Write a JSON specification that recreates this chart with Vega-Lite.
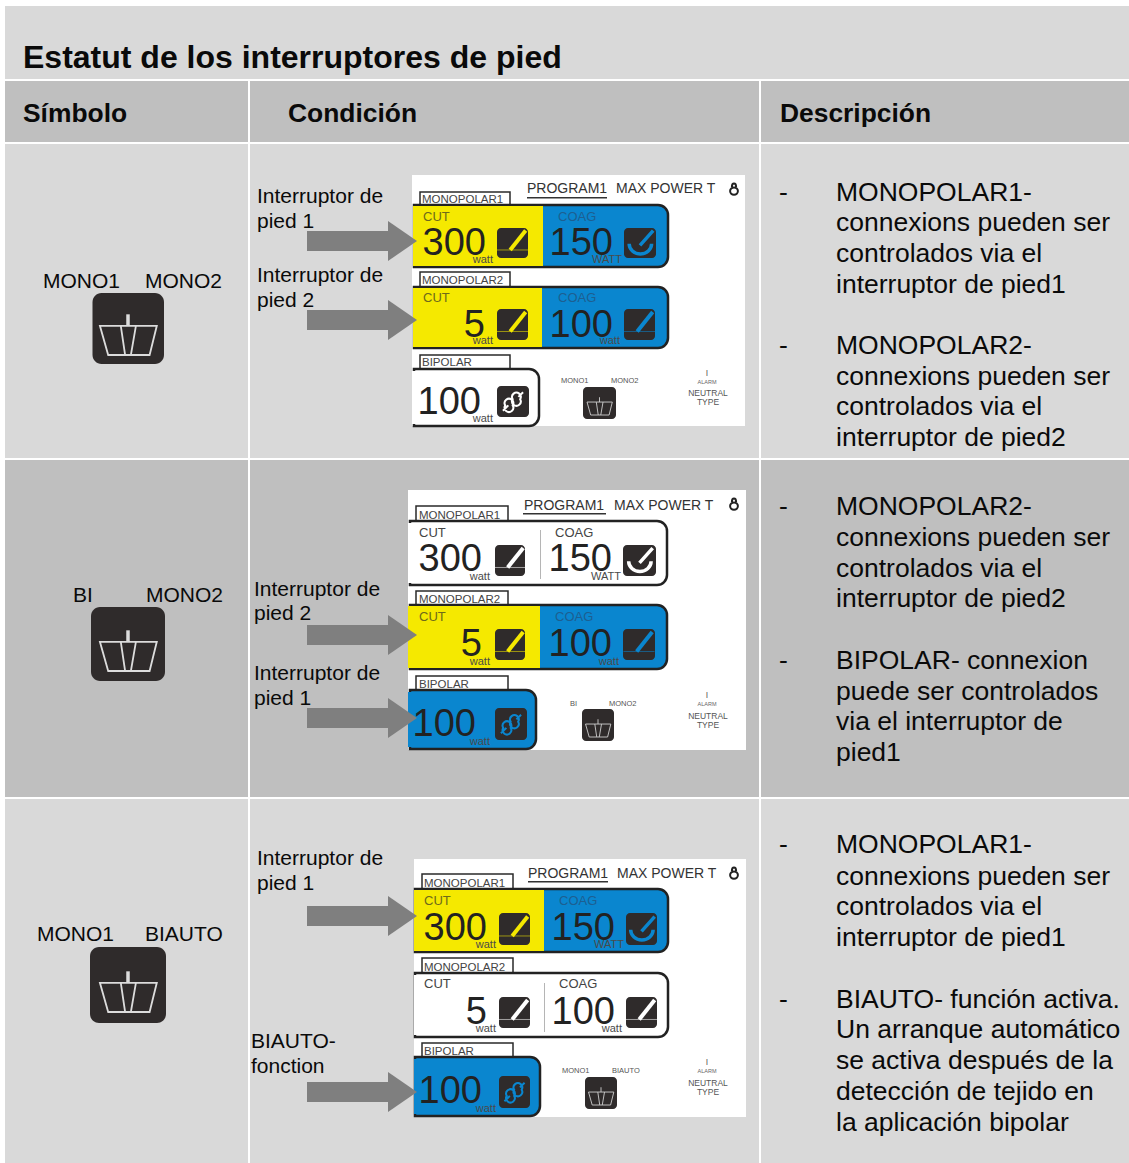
{"$schema":"https://vega.github.io/schema/vega-lite/v6.json","width":1129,"height":1163,"padding":0,"autosize":{"type":"fit","contains":"padding"},"background":"#ffffff","view":{"stroke":null},
"datasets":{
"cells":[
{"x":5,"x2":1129,"y":6,"y2":79,"tone":"band"},
{"x":5,"x2":248,"y":81,"y2":142,"tone":"head"},{"x":250,"x2":759,"y":81,"y2":142,"tone":"head"},{"x":761,"x2":1129,"y":81,"y2":142,"tone":"head"},
{"x":5,"x2":248,"y":144,"y2":458,"tone":"band"},{"x":250,"x2":759,"y":144,"y2":458,"tone":"band"},{"x":761,"x2":1129,"y":144,"y2":458,"tone":"band"},
{"x":5,"x2":248,"y":460,"y2":797,"tone":"head"},{"x":250,"x2":759,"y":460,"y2":797,"tone":"head"},{"x":761,"x2":1129,"y":460,"y2":797,"tone":"head"},
{"x":5,"x2":248,"y":799,"y2":1163,"tone":"band"},{"x":250,"x2":759,"y":799,"y2":1163,"tone":"band"},{"x":761,"x2":1129,"y":799,"y2":1163,"tone":"band"},
{"x":412,"x2":745,"y":175,"y2":426,"tone":"white"},{"x":408,"x2":746,"y":490,"y2":750,"tone":"white"},{"x":414,"x2":746,"y":859,"y2":1117,"tone":"white"}],
"labelBoxes":[
{"x":420,"x2":510,"y":192,"y2":206},{"x":420,"x2":510,"y":272,"y2":287},{"x":420,"x2":510,"y":355,"y2":370},
{"x":416,"x2":508,"y":506,"y2":522},{"x":416,"x2":508,"y":591,"y2":606},{"x":416,"x2":508,"y":676,"y2":691},
{"x":422,"x2":513,"y":874,"y2":890},{"x":422,"x2":513,"y":958,"y2":974},{"x":422,"x2":513,"y":1043,"y2":1058}],
"outlines":[
{"x":414,"x2":668,"y":205,"y2":267,"tone":"blue"},{"x":414,"x2":668,"y":287,"y2":348,"tone":"blue"},{"x":414,"x2":539,"y":369,"y2":426,"tone":"white"},
{"x":410,"x2":667,"y":521,"y2":585,"tone":"white"},{"x":410,"x2":667,"y":605,"y2":669,"tone":"blue"},{"x":410,"x2":536,"y":690,"y2":749,"tone":"blue"},
{"x":415,"x2":668,"y":889,"y2":952,"tone":"blue"},{"x":415,"x2":668,"y":973,"y2":1037,"tone":"white"},{"x":415,"x2":540,"y":1057,"y2":1116,"tone":"blue"}],
"flats":[
{"x":413,"x2":543,"y":206,"y2":266,"tone":"yellow"},{"x":413,"x2":542,"y":288,"y2":347,"tone":"yellow"},{"x":412,"x2":416,"y":371,"y2":424,"tone":"white"},
{"x":408,"x2":412,"y":523,"y2":583,"tone":"white"},{"x":408,"x2":540,"y":606,"y2":668,"tone":"yellow"},{"x":408,"x2":412,"y":692,"y2":747,"tone":"blue"},
{"x":414,"x2":544,"y":890,"y2":951,"tone":"yellow"},{"x":414,"x2":417,"y":975,"y2":1035,"tone":"white"},{"x":414,"x2":418,"y":1059,"y2":1114,"tone":"blue"},
{"x":540,"x2":541,"y":530,"y2":579,"tone":"sep"},{"x":544,"x2":545,"y":983,"y2":1032,"tone":"sep"},
{"x":527,"x2":607,"y":197,"y2":198.5,"tone":"rule"},{"x":523,"x2":606,"y":513,"y2":514.5,"tone":"rule"},{"x":528,"x2":608,"y":881,"y2":882.5,"tone":"rule"},
{"x":307,"x2":389,"y":231,"y2":251,"tone":"arrow"},{"x":307,"x2":389,"y":310,"y2":330,"tone":"arrow"},
{"x":307,"x2":389,"y":625,"y2":645,"tone":"arrow"},{"x":307,"x2":389,"y":708,"y2":728,"tone":"arrow"},
{"x":307,"x2":389,"y":906,"y2":926,"tone":"arrow"},{"x":307,"x2":389,"y":1082,"y2":1102,"tone":"arrow"}],
"heads":[{"x":402.5,"y":241},{"x":402.5,"y":320},{"x":402.5,"y":635},{"x":402.5,"y":718},{"x":402.5,"y":916},{"x":402.5,"y":1092}],
"bigBoxes":[{"x":92.5,"x2":164,"y":293,"y2":364},{"x":91,"x2":165,"y":607,"y2":681},{"x":90,"x2":166,"y":947,"y2":1023}],
"bigPedals":[{"x":128,"y":328},{"x":128,"y":644},{"x":128,"y":985}],
"smallBoxes":[
{"x":583,"x2":616,"y":387,"y2":419},{"x":582,"x2":614,"y":709,"y2":741},{"x":585,"x2":617,"y":1077,"y2":1109},
{"x":497,"x2":528,"y":228,"y2":258},{"x":624,"x2":656,"y":228,"y2":258},{"x":497,"x2":528,"y":309,"y2":340},{"x":624,"x2":655,"y":309,"y2":340},{"x":497,"x2":529,"y":386,"y2":417},
{"x":495,"x2":525,"y":545,"y2":576},{"x":623,"x2":656,"y":545,"y2":576},{"x":495,"x2":525,"y":629,"y2":660},{"x":623,"x2":655,"y":629,"y2":660},{"x":495,"x2":527,"y":708,"y2":740},
{"x":499,"x2":530,"y":913,"y2":945},{"x":626,"x2":657,"y":913,"y2":945},{"x":499,"x2":530,"y":997,"y2":1028},{"x":626,"x2":657,"y":997,"y2":1028},{"x":499,"x2":530,"y":1076,"y2":1108}],
"smallPedals":[{"x":599.5,"y":403},{"x":598,"y":725},{"x":601,"y":1093}],
"pencils":[
{"x":512.5,"y":243,"tone":"yellow"},{"x":512.5,"y":324.5,"tone":"yellow"},{"x":639.5,"y":324.5,"tone":"blue"},
{"x":510,"y":560.5,"tone":"white"},{"x":510,"y":644.5,"tone":"yellow"},{"x":639,"y":644.5,"tone":"blue"},
{"x":514.5,"y":929,"tone":"yellow"},{"x":514.5,"y":1012.5,"tone":"white"},{"x":641.5,"y":1012.5,"tone":"white"}],
"coags":[{"x":640,"y":243,"tone":"blue"},{"x":639.5,"y":560.5,"tone":"white"},{"x":641.5,"y":929,"tone":"blue"}],
"chains":[{"x":513,"y":401.5,"tone":"white"},{"x":511,"y":724,"tone":"blue"},{"x":514.5,"y":1092,"tone":"blue"}],
"locks":[{"x":734,"y":189},{"x":734,"y":504},{"x":734,"y":873}],
"title":[{"x":23,"y":68,"t":"Estatut de los interruptores de pied"}],
"header":[{"x":23,"y":122,"t":"Símbolo"},{"x":288,"y":122,"t":"Condición"},{"x":780,"y":122,"t":"Descripción"}],
"desc":[
{"x":779,"y":201,"t":"-"},{"x":836,"y":201,"t":"MONOPOLAR1-"},{"x":836,"y":231,"t":"connexions pueden ser"},{"x":836,"y":262,"t":"controlados via el"},{"x":836,"y":293,"t":"interruptor de pied1"},
{"x":779,"y":354,"t":"-"},{"x":836,"y":354,"t":"MONOPOLAR2-"},{"x":836,"y":385,"t":"connexions pueden ser"},{"x":836,"y":415,"t":"controlados via el"},{"x":836,"y":446,"t":"interruptor de pied2"},
{"x":779,"y":515,"t":"-"},{"x":836,"y":515,"t":"MONOPOLAR2-"},{"x":836,"y":546,"t":"connexions pueden ser"},{"x":836,"y":577,"t":"controlados via el"},{"x":836,"y":607,"t":"interruptor de pied2"},
{"x":779,"y":669,"t":"-"},{"x":836,"y":669,"t":"BIPOLAR- connexion"},{"x":836,"y":700,"t":"puede ser controlados"},{"x":836,"y":730,"t":"via el interruptor de"},{"x":836,"y":761,"t":"pied1"},
{"x":779,"y":853,"t":"-"},{"x":836,"y":853,"t":"MONOPOLAR1-"},{"x":836,"y":885,"t":"connexions pueden ser"},{"x":836,"y":915,"t":"controlados via el"},{"x":836,"y":946,"t":"interruptor de pied1"},
{"x":779,"y":1008,"t":"-"},{"x":836,"y":1008,"t":"BIAUTO- función activa."},{"x":836,"y":1038,"t":"Un arranque automático"},{"x":836,"y":1069,"t":"se activa después de la"},{"x":836,"y":1100,"t":"detección de tejido en"},{"x":836,"y":1131,"t":"la aplicación bipolar"}],
"labels":[
{"x":257,"y":203,"t":"Interruptor de"},{"x":257,"y":228,"t":"pied 1"},{"x":257,"y":282,"t":"Interruptor de"},{"x":257,"y":307,"t":"pied 2"},
{"x":254,"y":596,"t":"Interruptor de"},{"x":254,"y":620,"t":"pied 2"},{"x":254,"y":680,"t":"Interruptor de"},{"x":254,"y":705,"t":"pied 1"},
{"x":257,"y":865,"t":"Interruptor de"},{"x":257,"y":890,"t":"pied 1"},{"x":251,"y":1048,"t":"BIAUTO-"},{"x":251,"y":1073,"t":"fonction"},
{"x":43,"y":288,"t":"MONO1"},{"x":145,"y":288,"t":"MONO2"},{"x":73,"y":602,"t":"BI"},{"x":146,"y":602,"t":"MONO2"},{"x":37,"y":941,"t":"MONO1"},{"x":145,"y":941,"t":"BIAUTO"}],
"program":[
{"x":527,"y":193,"t":"PROGRAM1"},{"x":616,"y":193,"t":"MAX POWER T"},{"x":524,"y":510,"t":"PROGRAM1"},{"x":614,"y":510,"t":"MAX POWER T"},{"x":528,"y":878,"t":"PROGRAM1"},{"x":617,"y":878,"t":"MAX POWER T"}],
"modes":[
{"x":423,"y":221,"t":"CUT","tone":"onYellow"},{"x":558,"y":221,"t":"COAG","tone":"onBlue"},{"x":423,"y":302,"t":"CUT","tone":"onYellow"},{"x":558,"y":302,"t":"COAG","tone":"onBlue"},
{"x":419,"y":537,"t":"CUT","tone":"plain"},{"x":555,"y":537,"t":"COAG","tone":"plain"},{"x":419,"y":621,"t":"CUT","tone":"onYellow"},{"x":555,"y":621,"t":"COAG","tone":"onBlue"},
{"x":424,"y":905,"t":"CUT","tone":"onYellow"},{"x":559,"y":905,"t":"COAG","tone":"onBlue"},{"x":424,"y":988,"t":"CUT","tone":"plain"},{"x":559,"y":988,"t":"COAG","tone":"plain"}],
"boxLabels":[
{"x":422,"y":203,"t":"MONOPOLAR1"},{"x":422,"y":284,"t":"MONOPOLAR2"},{"x":422,"y":366,"t":"BIPOLAR"},
{"x":419,"y":519,"t":"MONOPOLAR1"},{"x":419,"y":603,"t":"MONOPOLAR2"},{"x":419,"y":688,"t":"BIPOLAR"},
{"x":424,"y":887,"t":"MONOPOLAR1"},{"x":424,"y":971,"t":"MONOPOLAR2"},{"x":424,"y":1055,"t":"BIPOLAR"}],
"numbers":[
{"x":486,"y":255,"t":"300"},{"x":613,"y":255,"t":"150"},{"x":485,"y":337,"t":"5"},{"x":613,"y":337,"t":"100"},{"x":481,"y":414,"t":"100"},
{"x":482,"y":571,"t":"300"},{"x":612,"y":571,"t":"150"},{"x":482,"y":656,"t":"5"},{"x":612,"y":656,"t":"100"},{"x":476,"y":736,"t":"100"},
{"x":487,"y":940,"t":"300"},{"x":615,"y":940,"t":"150"},{"x":487,"y":1024,"t":"5"},{"x":615,"y":1024,"t":"100"},{"x":482,"y":1103,"t":"100"}],
"watts":[
{"x":493,"y":263,"t":"watt"},{"x":622,"y":263,"t":"WATT"},{"x":493,"y":344,"t":"watt"},{"x":620,"y":344,"t":"watt"},{"x":493,"y":422,"t":"watt"},
{"x":490,"y":580,"t":"watt"},{"x":621,"y":580,"t":"WATT"},{"x":490,"y":665,"t":"watt"},{"x":619,"y":665,"t":"watt"},{"x":490,"y":745,"t":"watt"},
{"x":496,"y":948,"t":"watt"},{"x":624,"y":948,"t":"WATT"},{"x":496,"y":1032,"t":"watt"},{"x":622,"y":1032,"t":"watt"},{"x":496,"y":1112,"t":"watt"}],
"tiny":[
{"x":561,"y":383,"t":"MONO1"},{"x":611,"y":383,"t":"MONO2"},{"x":570,"y":706,"t":"BI"},{"x":609,"y":706,"t":"MONO2"},{"x":562,"y":1073,"t":"MONO1"},{"x":612,"y":1073,"t":"BIAUTO"}],
"neutral":[
{"x":708,"y":396,"t":"NEUTRAL"},{"x":708,"y":405,"t":"TYPE"},{"x":707,"y":376,"t":"I"},
{"x":708,"y":719,"t":"NEUTRAL"},{"x":708,"y":728,"t":"TYPE"},{"x":707,"y":698,"t":"I"},
{"x":708,"y":1086,"t":"NEUTRAL"},{"x":708,"y":1095,"t":"TYPE"},{"x":707,"y":1065,"t":"I"}],
"alarm":[{"x":707,"y":384,"t":"ALARM"},{"x":707,"y":706,"t":"ALARM"},{"x":707,"y":1073,"t":"ALARM"}]
},
"encoding":{"x":{"field":"x","type":"quantitative","axis":null,"scale":{"domain":[0,1129],"nice":false,"zero":false}},"y":{"field":"y","type":"quantitative","axis":null,"scale":{"domain":[1163,0],"nice":false,"zero":false}}},
"layer":[
{"data":{"name":"cells"},"mark":{"type":"rect"},"encoding":{"x2":{"field":"x2"},"y2":{"field":"y2"},"fill":{"field":"tone","type":"nominal","legend":null,"scale":{"domain":["band","head","white","yellow","blue","sep","rule","arrow"],"range":["#d9d9d9","#bfbfbf","#ffffff","#f5e900","#0a86cf","#b5b5b5","#333333","#7f7f7f"]}}}},
{"data":{"name":"labelBoxes"},"mark":{"type":"rect","fill":"#ffffff","stroke":"#2a2a2a","strokeWidth":1.5},"encoding":{"x2":{"field":"x2"},"y2":{"field":"y2"}}},
{"data":{"name":"outlines"},"mark":{"type":"rect","stroke":"#222222","strokeWidth":2.5,"cornerRadiusTopRight":10,"cornerRadiusBottomRight":10},"encoding":{"x2":{"field":"x2"},"y2":{"field":"y2"},"fill":{"field":"tone","type":"nominal","legend":null}}},
{"data":{"name":"flats"},"mark":{"type":"rect"},"encoding":{"x2":{"field":"x2"},"y2":{"field":"y2"},"fill":{"field":"tone","type":"nominal","legend":null}}},
{"data":{"name":"heads"},"mark":{"type":"point","filled":true,"fill":"#7f7f7f","opacity":1,"size":1600,"strokeWidth":0,"shape":"M-0.725,-1L0.725,0L-0.725,1Z"}},
{"data":{"name":"bigBoxes"},"mark":{"type":"rect","fill":"#2f2b2b","cornerRadius":9},"encoding":{"x2":{"field":"x2"},"y2":{"field":"y2"}}},
{"data":{"name":"smallBoxes"},"mark":{"type":"rect","fill":"#2f2b2b","cornerRadius":4},"encoding":{"x2":{"field":"x2"},"y2":{"field":"y2"}}},
{"data":{"name":"bigPedals"},"mark":{"type":"point","filled":false,"stroke":"#dcdcdc","opacity":1,"strokeWidth":1.8,"size":5184,"shape":"M-0.78,-0.06L0.8,-0.06L0.6,0.75L-0.55,0.75ZM-0.2,-0.06L-0.08,0.75M0.22,-0.06L0.08,0.75"}},
{"data":{"name":"bigPedals"},"mark":{"type":"point","filled":false,"stroke":"#dcdcdc","opacity":1,"strokeWidth":3.5,"size":5184,"shape":"M0,-0.38L0,-0.06"}},
{"data":{"name":"smallPedals"},"mark":{"type":"point","filled":false,"stroke":"#cfcfcf","opacity":1,"strokeWidth":0.9,"size":1024,"shape":"M-0.78,-0.06L0.8,-0.06L0.6,0.75L-0.55,0.75ZM0,-0.36L0,-0.06M-0.2,-0.06L-0.08,0.75M0.22,-0.06L0.08,0.75"}},
{"data":{"name":"pencils"},"mark":{"type":"point","filled":false,"opacity":1,"strokeWidth":4,"size":961,"shape":"M-0.15,0.45L0.85,-0.8"},"encoding":{"stroke":{"field":"tone","type":"nominal","legend":null,"scale":{"domain":["white","yellow","blue"],"range":["#ffffff","#f5e900","#0a86cf"]}}}},
{"data":{"name":"pencils"},"mark":{"type":"point","filled":false,"opacity":0.8,"strokeWidth":0.7,"size":961,"shape":"M-1,0.45L1,0.45"},"encoding":{"stroke":{"field":"tone","type":"nominal","legend":null}}},
{"data":{"name":"coags"},"mark":{"type":"point","filled":false,"opacity":1,"strokeWidth":3.5,"size":961,"shape":"M-0.7,0.05A0.72,0.65 0 0 0 0.75,0.05M0,0.15L0.85,-0.8"},"encoding":{"stroke":{"field":"tone","type":"nominal","legend":null}}},
{"data":{"name":"chains"},"mark":{"type":"point","filled":false,"opacity":1,"strokeWidth":2,"size":961,"shape":"M-0.65,0.6L-0.3,0.25M0.35,-0.3L0.65,-0.6M-0.5,0.25A0.28,0.28 0 1 1 -0.02,0.25A0.28,0.28 0 1 1 -0.5,0.25ZM-0.02,-0.15A0.28,0.28 0 1 1 0.46,-0.15A0.28,0.28 0 1 1 -0.02,-0.15Z"},"encoding":{"stroke":{"field":"tone","type":"nominal","legend":null}}},
{"data":{"name":"locks"},"mark":{"type":"point","filled":false,"stroke":"#222222","opacity":1,"strokeWidth":2,"size":144,"shape":"M-0.65,0.35A0.65,0.62 0 1 1 0.65,0.35A0.65,0.62 0 1 1 -0.65,0.35ZM-0.35,-0.35A0.35,0.55 0 0 1 0.35,-0.35"}},
{"data":{"name":"title"},"mark":{"type":"text","align":"left","baseline":"alphabetic","font":"Liberation Sans","fontWeight":"bold","fontSize":32,"fill":"#0a0a0a"},"encoding":{"text":{"field":"t"}}},
{"data":{"name":"header"},"mark":{"type":"text","align":"left","baseline":"alphabetic","font":"Liberation Sans","fontWeight":"bold","fontSize":26.4,"fill":"#0a0a0a"},"encoding":{"text":{"field":"t"}}},
{"data":{"name":"desc"},"mark":{"type":"text","align":"left","baseline":"alphabetic","font":"Liberation Sans","fontSize":26.5,"fill":"#0a0a0a"},"encoding":{"text":{"field":"t"}}},
{"data":{"name":"labels"},"mark":{"type":"text","align":"left","baseline":"alphabetic","font":"Liberation Sans","fontSize":21,"fill":"#0a0a0a"},"encoding":{"text":{"field":"t"}}},
{"data":{"name":"program"},"mark":{"type":"text","align":"left","baseline":"alphabetic","font":"Liberation Sans","fontSize":14,"fill":"#333333"},"encoding":{"text":{"field":"t"}}},
{"data":{"name":"modes"},"mark":{"type":"text","align":"left","baseline":"alphabetic","font":"Liberation Sans","fontSize":13},"encoding":{"text":{"field":"t"},"color":{"field":"tone","type":"nominal","legend":null,"scale":{"domain":["onYellow","onBlue","plain"],"range":["#6e6a1a","#1d5f91","#444444"]}}}},
{"data":{"name":"boxLabels"},"mark":{"type":"text","align":"left","baseline":"alphabetic","font":"Liberation Sans","fontSize":11.5,"fill":"#444444"},"encoding":{"text":{"field":"t"}}},
{"data":{"name":"numbers"},"mark":{"type":"text","align":"right","baseline":"alphabetic","font":"Liberation Sans","fontSize":38,"fill":"#222222"},"encoding":{"text":{"field":"t"}}},
{"data":{"name":"watts"},"mark":{"type":"text","align":"right","baseline":"alphabetic","font":"Liberation Sans","fontSize":11,"fill":"#4a4a4a"},"encoding":{"text":{"field":"t"}}},
{"data":{"name":"tiny"},"mark":{"type":"text","align":"left","baseline":"alphabetic","font":"Liberation Sans","fontSize":7.5,"fill":"#555555"},"encoding":{"text":{"field":"t"}}},
{"data":{"name":"neutral"},"mark":{"type":"text","align":"center","baseline":"alphabetic","font":"Liberation Sans","fontSize":8.5,"fill":"#555555"},"encoding":{"text":{"field":"t"}}},
{"data":{"name":"alarm"},"mark":{"type":"text","align":"center","baseline":"alphabetic","font":"Liberation Sans","fontSize":5.5,"fill":"#666666"},"encoding":{"text":{"field":"t"}}}
]}
